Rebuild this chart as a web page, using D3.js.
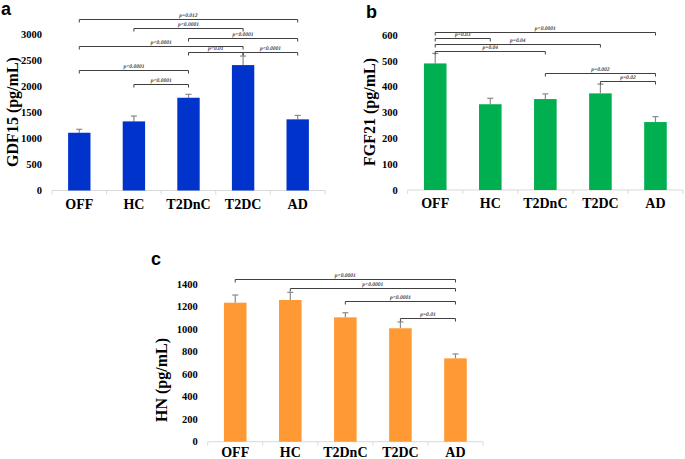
<!DOCTYPE html>
<html><head><meta charset="utf-8">
<script src="https://cdn.jsdelivr.net/npm/d3@7/dist/d3.min.js"></script>
<style>body{margin:0;background:#fff} .plab{text-rendering:geometricPrecision;-webkit-font-smoothing:antialiased}</style>
</head><body>
<svg id="chart" width="685" height="459"></svg>
<script>
const categories = ["OFF","HC","T2DnC","T2DC","AD"];

const gdf15Mean = [1107,1325,1778,2404,1364];
const gdf15Err  = [66,102,65,173,76];
const gdf15Ticks = [0,500,1000,1500,2000,2500,3000];
const gdf15Brackets = [
  ["OFF","AD","p=0.012",3280],
  ["HC","T2DC","p<0.0001",3113],
  ["T2DnC","AD","p<0.0001",2927],
  ["OFF","T2DC","p<0.0001",2774],
  ["T2DnC","T2DC","p<0.01",2648],
  ["T2DC","AD","p<0.0001",2648],
  ["OFF","T2DnC","p<0.0001",2303],
  ["HC","T2DnC","p<0.0001",2034]
];

const fgf21Mean = [490,332,352,374,263];
const fgf21Err  = [39,23,20,36,21];
const fgf21Ticks = [0,100,200,300,400,500,600];
const fgf21Brackets = [
  ["OFF","AD","p<0.0001",612],
  ["OFF","HC","p=0.03",587],
  ["OFF","T2DC","p=0.04",567],
  ["OFF","T2DnC","p=0.04",537],
  ["T2DnC","AD","p=0.002",452],
  ["T2DC","AD","p=0.02",422]
];

const hnMean = [1234,1258,1104,1007,740];
const hnErr  = [68,68,41,56,39];
const hnTicks = [0,200,400,600,800,1000,1200,1400];
const hnBrackets = [
  ["OFF","AD","p<0.0001",1440],
  ["HC","AD","p<0.0001",1364],
  ["T2DnC","AD","p<0.0001",1246],
  ["T2DC","AD","p=0.01",1098]
];

const svg = d3.select("#chart");
const serif = "'Liberation Serif','Times New Roman',serif";

function panel(o){
  const g = svg.append("g");
  const x = d3.scaleBand().domain(categories).range([o.x0, o.x1]);
  const y = d3.scaleLinear().domain([0, o.ticks[o.ticks.length-1]]).range([o.y0, o.yTop]);
  const bw = x.bandwidth()*0.41;
  const cx = c => x(c) + x.bandwidth()/2;

  g.append("line").attr("x1",o.x0).attr("x2",o.x1).attr("y1",o.y0).attr("y2",o.y0)
    .attr("stroke","#d9d9d9").attr("stroke-width",1);
  const edges = categories.map(c=>x(c)).concat([o.x1]);
  g.selectAll(".xt").data(edges).join("line")
    .attr("x1",d=>d).attr("x2",d=>d).attr("y1",o.y0).attr("y2",o.y0+4)
    .attr("stroke","#d9d9d9");

  g.selectAll(".yl").data(o.ticks).join("text")
    .attr("x",o.x0-10).attr("y",d=>y(d)).attr("dy","0.35em")
    .attr("text-anchor","end").attr("font-family",serif).attr("font-weight","bold")
    .attr("font-size",10.5).attr("fill","#000").text(d=>d);

  g.selectAll(".xl").data(categories).join("text")
    .attr("x",d=>cx(d)).attr("y",o.y0+o.labDy).attr("text-anchor","middle")
    .attr("font-family",serif).attr("font-weight","bold").attr("font-size",14)
    .attr("fill","#000").text(d=>d);

  const eb = g.selectAll(".eb").data(categories).join("g");
  eb.append("line").attr("x1",d=>cx(d)).attr("x2",d=>cx(d))
    .attr("y1",(d,i)=>y(o.mean[i])).attr("y2",(d,i)=>y(o.mean[i]+o.err[i]))
    .attr("stroke","#8a8a8a").attr("stroke-width",1.2);
  eb.append("line").attr("x1",d=>cx(d)-3).attr("x2",d=>cx(d)+3)
    .attr("y1",(d,i)=>y(o.mean[i]+o.err[i])).attr("y2",(d,i)=>y(o.mean[i]+o.err[i]))
    .attr("stroke","#8a8a8a").attr("stroke-width",1.2);

  g.selectAll(".bar").data(categories).join("rect")
    .attr("x",d=>cx(d)-bw/2).attr("width",bw)
    .attr("y",(d,i)=>y(o.mean[i])).attr("height",(d,i)=>o.y0-y(o.mean[i]))
    .attr("fill",o.color);

  const br = g.selectAll(".br").data(o.brackets).join("g");
  br.append("path")
    .attr("d",d=>{const a=cx(d[0]), b=cx(d[1]), yy=Math.round(y(d[3]))+0.5;
      return `M${a},${yy+3}V${yy}H${b}V${yy+3}`;})
    .attr("fill","none").attr("stroke","#404040").attr("stroke-width",1);
  br.append("text").attr("class","plab")
    .attr("x",d=>(cx(d[0])+cx(d[1]))/2).attr("y",d=>y(d[3])-2)
    .attr("text-anchor","middle").attr("font-family",serif)
    .attr("font-style","italic").attr("font-weight","bold").attr("font-size",5.5)
    .attr("fill","#404040").text(d=>d[2]);

  g.append("text").attr("transform",`translate(${o.titleX},${o.titleY}) rotate(-90)`)
    .attr("text-anchor","middle").attr("font-family",serif).attr("font-weight","bold")
    .attr("font-size",16).attr("fill","#000").text(o.title);

  g.append("text").attr("x",o.lx).attr("y",o.ly)
    .attr("font-family","'Liberation Sans',Arial,sans-serif").attr("font-weight","bold")
    .attr("font-size",18).attr("fill","#000").text(o.letter);
}

panel({x0:52,x1:325,y0:190.5,yTop:34,ticks:gdf15Ticks,mean:gdf15Mean,err:gdf15Err,
  brackets:gdf15Brackets,color:"#0033cc",title:"GDF15 (pg/mL)",titleX:18,titleY:112,
  letter:"a",lx:1,ly:15,labDy:18});
panel({x0:407.7,x1:683,y0:190,yTop:35,ticks:fgf21Ticks,mean:fgf21Mean,err:fgf21Err,
  brackets:fgf21Brackets,color:"#00b050",title:"FGF21 (pg/mL)",titleX:375,titleY:112,
  letter:"b",lx:366,ly:18,labDy:18});
panel({x0:207.7,x1:483,y0:441.7,yTop:284,ticks:hnTicks,mean:hnMean,err:hnErr,
  brackets:hnBrackets,color:"#ff9933",title:"HN (pg/mL)",titleX:167,titleY:380,
  letter:"c",lx:151,ly:265,labDy:15});
</script>
</body></html>
